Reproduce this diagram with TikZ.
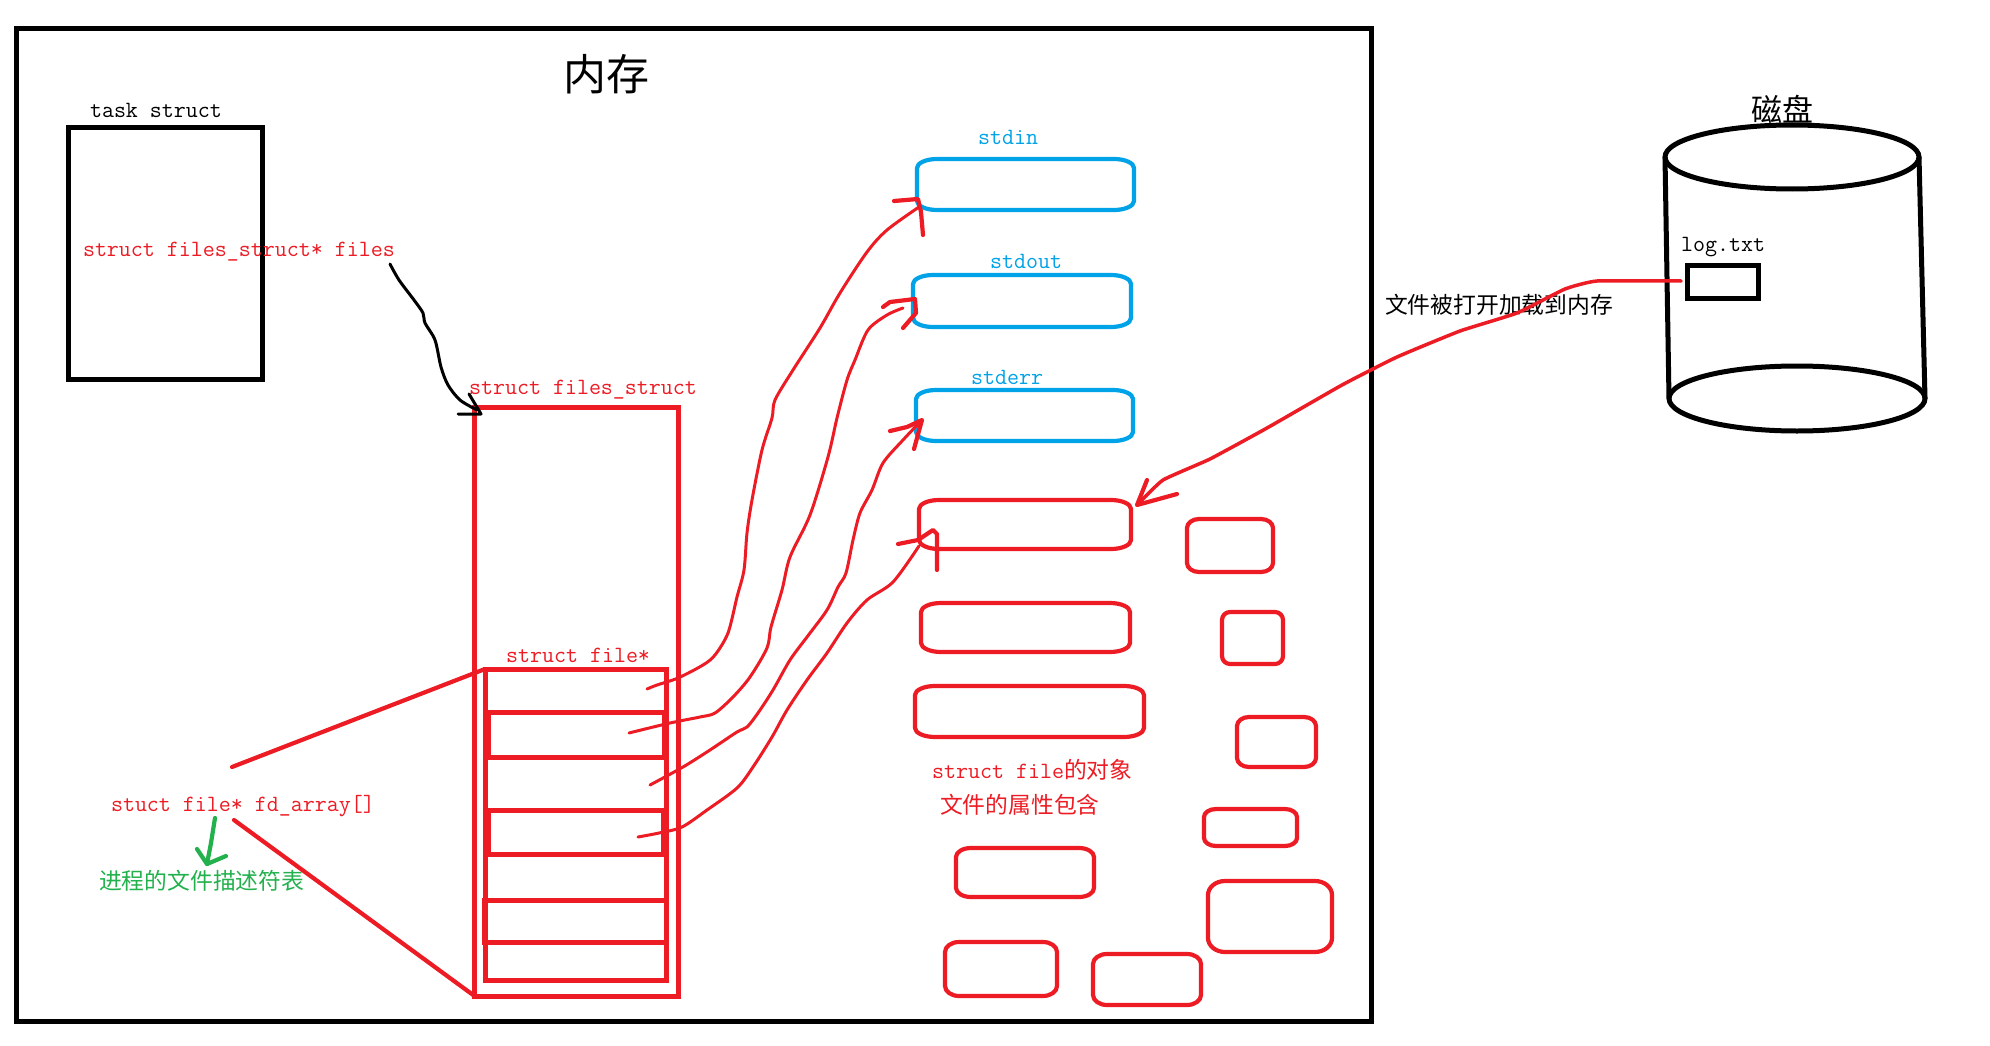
\documentclass[tikz,border=0pt]{standalone}
\usepackage{fontspec}
\newfontfamily\cjkface{Noto Sans CJK SC}
\definecolor{inkred}{HTML}{ED1C24}
\definecolor{inkblue}{HTML}{00A2E8}
\definecolor{inkgreen}{HTML}{22B14C}
\newcommand{\lat}{\ttfamily\fontsize{23.3}{24}\selectfont}
\newcommand{\han}{\cjkface\fontsize{22.8}{24}\selectfont}
% Box with elliptical corners: colour, name, x1, y1, x2, y2, corner rx, corner ry
\newcommand{\softbox}[8]{%
  \node[inner sep=0pt,outer sep=0pt,minimum width={#5-#3},minimum height={#6-#4}] (#2) at ({(#3+#5)/2},{(#4+#6)/2}) {};
  \draw[softline,#1]
    ([yshift=-#8pt]#2.north west)
    .. controls ([yshift=-0.45*#8pt]#2.north west) and ([xshift=0.45*#7pt]#2.north west) .. ([xshift=#7pt]#2.north west)
    -- ([xshift=-#7pt]#2.north east)
    .. controls ([xshift=-0.45*#7pt]#2.north east) and ([yshift=-0.45*#8pt]#2.north east) .. ([yshift=-#8pt]#2.north east)
    -- ([yshift=#8pt]#2.south east)
    .. controls ([yshift=0.45*#8pt]#2.south east) and ([xshift=-0.45*#7pt]#2.south east) .. ([xshift=-#7pt]#2.south east)
    -- ([xshift=#7pt]#2.south west)
    .. controls ([xshift=0.45*#7pt]#2.south west) and ([yshift=0.45*#8pt]#2.south west) .. ([yshift=#8pt]#2.south west)
    -- cycle;
}
\tikzset{
  softline/.style={line width=4.2pt,line join=round},
  heavy/.style={line width=5pt,line join=miter},
  sharpbox/.style={draw,line width=5pt,inner sep=0pt,outer sep=0pt,rectangle},
  label/.style={inner sep=0pt,outer sep=0pt,anchor=base west},
  stroke/.style={line width=3pt,line cap=round,line join=round},
  wedge/.style={line width=4.2pt,line cap=round,line join=round,inkred},
}
\begin{document}
\begin{tikzpicture}[x=1pt,y=-1pt]
\useasboundingbox (0,0) rectangle (1990,1046);
\fill[white] (0,0) rectangle (1990,1046);

% Memory frame
\node[sharpbox,minimum width=1355pt,minimum height=992pt] (memory) at (693.5,525) {};
\node[label,font=\cjkface\fontsize{43}{45}\selectfont] (memtitle) at (563,91) {内存};

% Process descriptor
\node[sharpbox,minimum width=194pt,minimum height=251pt] (task) at (165.5,253.5) {};
\node[label,font=\lat] (tasklabel) at (90,118) {task struct};
\node[label,font=\lat,text=inkred] (filesptr) at (83,256) {struct files\_struct* files};

% files_struct and its descriptor array
\node[sharpbox,draw=inkred,minimum width=204pt,minimum height=589pt] (filesstruct) at (576.5,701.5) {};
\node[label,font=\lat,text=inkred] (filesstructlabel) at (469,394) {struct files\_struct};
\node[sharpbox,draw=inkred,minimum width=181.5pt,minimum height=311pt] (fdarray) at (575.75,824.5) {};
\node[label,font=\lat,text=inkred] (slotlabel) at (506,662) {struct file*};
\node[sharpbox,draw=inkred,minimum width=176pt,minimum height=45pt] (slotb) at (576,734.5) {};
\node[sharpbox,draw=inkred,minimum width=175pt,minimum height=44pt] (slotd) at (575.5,832) {};
\node[sharpbox,draw=inkred,minimum width=182pt,minimum height=42pt] (slotf) at (575,921) {};
\node[label,font=\lat,text=inkred] (fdlabel) at (111,811) {stuct file* fd\_array[]};
\node[label,font=\han,text=inkgreen] (fdnote) at (99,889) {进程的文件描述符表};

% Standard streams
\softbox{inkblue}{stdinbox}{917}{159}{1134}{210}{20}{9}
\softbox{inkblue}{stdoutbox}{913}{275}{1131}{327}{20}{9}
\softbox{inkblue}{stderrbox}{916}{390}{1133}{441}{20}{9}
\node[label,font=\lat,text=inkblue] (stdinlabel) at (978,145) {stdin};
\node[label,font=\lat,text=inkblue] (stdoutlabel) at (990,268) {stdout};
\node[label,font=\lat,text=inkblue] (stderrlabel) at (971,384) {stderr};

% struct file objects
\softbox{inkred}{objA}{919}{500}{1131}{549}{20}{9}
\softbox{inkred}{objB}{921}{603}{1130}{652}{20}{9}
\softbox{inkred}{objC}{915}{686}{1144}{737}{20}{9}
\softbox{inkred}{objD}{956}{848}{1094}{897}{15}{9}
\softbox{inkred}{objE}{945}{942}{1057}{996}{14}{10}
\softbox{inkred}{objF}{1093}{954}{1201}{1005}{14}{10}
\softbox{inkred}{objG}{1187}{519}{1273}{572}{12}{9}
\softbox{inkred}{objH}{1222}{612}{1283}{664}{8}{8}
\softbox{inkred}{objI}{1237}{717}{1316}{767}{12}{9}
\softbox{inkred}{objJ}{1204}{809}{1297}{846}{12}{8}
\softbox{inkred}{objK}{1208}{881}{1332}{952}{17}{14}
\node[label,text=inkred] (objlabel) at (932,778) {\lat struct file\han 的对象};
\node[label,font=\han,text=inkred] (attrlabel) at (940,813) {文件的属性包含};

% Disk
\node[inner sep=0pt,outer sep=0pt,minimum width=254pt,minimum height=64pt] (disktop) at (1792,157) {};
\node[inner sep=0pt,outer sep=0pt,minimum width=256pt,minimum height=65pt] (diskbase) at (1797,398.5) {};
\draw[line width=5pt] (disktop.center) ellipse [x radius=127,y radius=32];
\draw[line width=5pt] (diskbase.center) ellipse [x radius=128,y radius=32.5];
\draw[line width=5pt] (disktop.west) -- (diskbase.west);
\draw[line width=5pt] (disktop.east) -- (diskbase.east);
\node[label,font=\cjkface\fontsize{31}{33}\selectfont] (disklabel) at (1751,122) {磁盘};
\node[sharpbox,minimum width=71pt,minimum height=33pt] (logfile) at (1722.5,281.5) {};
\node[label,font=\lat] (loglabel) at (1681,251) {log.txt};
\node[label,font=\han] (loadlabel) at (1385,313) {文件被打开加载到内存};

% Array rows
\draw[heavy,inkred] (fdarray.west |- 0,712) -- (fdarray.east |- 0,712);
\draw[heavy,inkred] (fdarray.west |- 0,757) -- (fdarray.east |- 0,757);
\draw[heavy,inkred] (fdarray.west |- 0,810) -- (fdarray.east |- 0,810);
\draw[heavy,inkred] (fdarray.west |- 0,854) -- (fdarray.east |- 0,854);
\draw[heavy,inkred] (fdarray.west |- 0,900) -- (fdarray.east |- 0,900);
\draw[heavy,inkred] (fdarray.west |- 0,942) -- (fdarray.east |- 0,942);

% Zoom lines from the array name to the array
\coordinate (zoomup) at (232,767);
\coordinate (zoomdown) at (234,820);
\draw[wedge] (zoomup) -- (fdarray.north west);
\draw[wedge] (zoomdown) -- (filesstruct.south west);

% Array name to its description
\coordinate (notefrom) at (215,818);
\coordinate (notetip) at (207,864);
\draw[wedge,inkgreen] (notefrom) -- (211,843) -- (notetip);
\draw[wedge,inkgreen] (197,849) -- (notetip) -- (226,856);

% files pointer to the files_struct
\coordinate (ptrfrom) at (390,264);
\coordinate (ptrtip) at (477,410);
\draw[stroke,black] plot[smooth,tension=.5] coordinates {(ptrfrom) (399,280) (414,300) (423,313) (425,323) (435,340) (441,367) (448,385) (460,400) (ptrtip)};
\draw[stroke,black] (469,394) -- (481,414) -- (458,414);

% Descriptors to the file objects
\coordinate (fdzero) at (647,689);
\coordinate (fdone) at (629,733);
\coordinate (fdtwo) at (650,785);
\coordinate (fdthree) at (638,837);
\coordinate (tipin) at (919,207);
\coordinate (tipout) at (903,308);
\coordinate (tiperr) at (921,421);
\coordinate (tipfile) at (919,546);
\draw[stroke,inkred] plot[smooth,tension=.5] coordinates {(fdzero) (657,685) (678,678) (703,665) (715,655) (728,633) (737,597) (744,570) (747,533) (752,500) (762,450) (772,418) (775,400) (793,370) (820,328) (840,293) (867,252) (887,230) (tipin)};
\draw[stroke,inkred] plot[smooth,tension=.5] coordinates {(fdone) (670,723) (700,717) (715,713) (733,697) (750,677) (767,648) (771,627) (782,590) (790,557) (810,515) (828,457) (837,418) (847,380) (855,360) (868,330) (887,315) (tipout)};
\draw[stroke,inkred] plot[smooth,tension=.5] coordinates {(fdtwo) (683,767) (710,750) (737,732) (747,727) (758,713) (773,690) (790,660) (807,637) (827,610) (838,587) (846,573) (853,540) (860,513) (872,490) (883,463) (903,440) (tiperr)};
\draw[stroke,inkred] plot[smooth,tension=.5] coordinates {(fdthree) (659,833) (682,827) (707,810) (737,788) (753,767) (772,737) (787,710) (807,680) (827,653) (847,623) (867,600) (893,582) (tipfile)};
% Arrowheads drawn by hand
\draw[wedge] (894,201) -- (918,199) -- (921,212) -- (923,235);
\draw[wedge] (883,307) -- (890,302) -- (915,299) -- (916,313) -- (903,328);
\draw[wedge] (890,431) -- (907,427) -- (922,420) -- (914,449);
\draw[wedge] (898,544) -- (918,540) -- (933,530) -- (937,534) -- (937,570);

% Loading log.txt into memory
\coordinate (loadfrom) at (1681,281);
\coordinate (loadtip) at (1137,505);
\draw[stroke,inkred,line width=3.5pt] plot[tension=.25,smooth] coordinates {(loadfrom) (1597,281) (1565,289) (1517,313) (1460,331) (1397,357) (1342,385) (1267,428) (1210,459) (1163,480) (loadtip)};
\draw[wedge] (1147,480) -- (loadtip) -- (1177,494);
\end{tikzpicture}
\end{document}
